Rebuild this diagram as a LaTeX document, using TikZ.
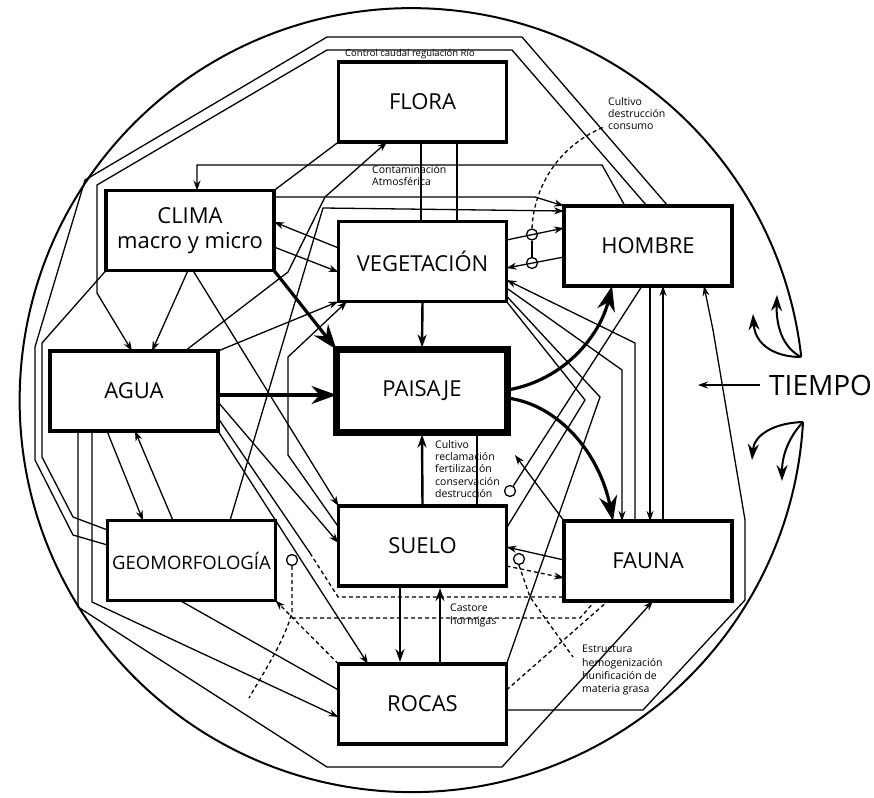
\documentclass[tikz,border=0pt]{standalone}
\usepackage{fontspec}
\setmainfont{Open Sans}
\usetikzlibrary{arrows.meta}
\tikzset{
  box/.style={draw, line width=3.2pt, minimum width=168pt, minimum height=80pt, inner sep=0pt, outer sep=0pt, align=center, font=\fontsize{22}{25}\selectfont},
  link/.style={line width=1.3pt},
  dlink/.style={line width=1.3pt, dash pattern=on 4pt off 3pt},
  mid/.style={line width=2.4pt, -{Stealth[length=13pt,width=9pt]}, shorten >=2pt},
  heavy/.style={line width=3.2pt, -{Stealth[length=25pt,width=18pt]}},
  note/.style={anchor=north west, inner sep=0pt, align=left, font=\fontsize{10.5}{12.4}\selectfont},
  ring/.style={draw, circle, line width=1.3pt, minimum size=11pt, inner sep=0pt},
  leaf/.style={line width=2pt, -{Stealth[length=16pt,width=11pt]}}
}
\begin{document}
\begin{tikzpicture}[x=1pt, y=-1pt, >={Stealth[length=10pt,width=7pt]}]
\useasboundingbox (0,0) rectangle (874,797);
\node[box] (flora) at (422.5,102) {FLORA}; % flora
\node[box] (clima) at (190,230.5) {CLIMA\\macro y micro}; % clima
\node[box] (veg) at (422.5,261.5) {VEGETACIÓN}; % vegetacion
\node[box] (hombre) at (648,246) {HOMBRE}; % hombre
\node[box] (agua) at (134,391) {AGUA}; % agua
\node[box, line width=7pt, minimum width=171pt, minimum height=83pt] (paisaje) at (422,391) {PAISAJE}; % paisaje
\node[box, font=\fontsize{18.5}{22}\selectfont] (geo) at (191.5,560.5) {GEOMORFOLOGÍA}; % geomorfologia
\node[box] (suelo) at (422.5,546) {SUELO}; % suelo
\node[box] (fauna) at (648,561) {FAUNA}; % fauna
\node[box] (rocas) at (422.5,704) {ROCAS}; % rocas

% ring of time, open at TIEMPO
\draw[line width=2pt] (803,422) arc[start angle=3.2, end angle=353.7, radius=392];
\draw[leaf] (801,357) .. controls (775,357) and (755,345) .. (753,314);
\draw[leaf] (801,357) .. controls (782,347) and (776,325) .. (777,295);
\draw[leaf] (803,422) .. controls (772,423) and (754,436) .. (752,460);
\draw[leaf] (803,422) .. controls (789,437) and (782,455) .. (782,481);
\node[anchor=west, inner sep=0pt, font=\fontsize{28}{30}\selectfont] (tiempo) at (769,385) {TIEMPO}; % tiempo
\coordinate (now) at (698,385);
\draw[link,->] ([xshift=-9pt]tiempo.west) -- (now); % time arrow

% long loops over the top
\draw[link] (hombre.north -| 668,0) -- (522,37) -- (327,37) -- (85,180) -- (35,347) -- (35,460) -- (73,535) -- (geo.west |- 0,545); % outer loop
\draw[link,->] (hombre.north -| 647,0) -- (512,50) -- (327,50) -- (97,185) -- (97,293) -- (agua.north -| 132,0); % control caudal
\draw[link,->] (hombre.north -| 625,0) -- (602,165) -- (197,165) -- (clima.north -| 197,0); % contaminacion
\draw[link,->] (clima.east |- 0,197) -- (535,197) -- (hombre.north west); % clima to hombre
\draw[link,->] (geo.north -| 230,0) -- (323,208) -- (hombre.west |- 0,211); % geomorfologia to hombre
\draw[link,->] (agua.north -| 185,0) -- (288,272) -- (325,197) -- (flora.south -| 387,0); % agua to flora
\draw[link] (clima.north east) -- (flora.south west); % clima - flora
\draw[link] (flora.south -| 421,0) -- (veg.north -| 421,0); % flora - vegetacion
\draw[link] (flora.south -| 457,0) -- (veg.north -| 457,0);

% clima
\draw[link,->] (veg.west |- 0,248) -- (clima.east |- 0,222);
\draw[link,->] (clima.east |- 0,247) -- (veg.west |- 0,272);
\draw[link,->] (clima.south -| 188,0) -- (agua.north -| 152,0);
\draw[link,->] (clima.south -| 193,0) -- (suelo.north west);
\draw[link] (clima.south west) -- (42,343) -- (42,457) -- (73,517) -- (geo.west |- 0,530);
\draw[heavy] (clima.south east) -- (paisaje.north west); % clima to paisaje

% agua
\draw[link,->] (agua.north east) -- (veg.south west);
\draw[heavy] (agua.east |- 0,395) -- (paisaje.west |- 0,395); % agua to paisaje
\draw[link,->] (agua.east |- 0,402) -- (suelo.west |- 0,543);
\draw[link] (agua.east |- 0,418) -- (310,553);
\draw[dlink] (310,553) -- (338,597) -- (fauna.west |- 0,597);
\draw[link,->] (agua.south east) -- (rocas.north -| 368,0);
\draw[link,->] (agua.south -| 107,0) -- (geo.north -| 143,0);
\draw[link,->] (geo.north -| 173,0) -- (agua.south -| 135,0);
\draw[link,->] (agua.south -| 78,0) -- (78,607) -- (327,767) -- (502,767) -- (fauna.south -| 653,0); % bottom loop
\draw[link,->] (agua.south -| 92,0) -- (92,602) -- (rocas.west |- 0,717);
\draw[link] (geo.south -| 180,0) -- (rocas.west |- 0,690);

% paisaje column
\draw[link,->] (suelo.west |- 0,527) -- (288,455) -- (288,357) -- (veg.south -| 347,0);
\draw[mid] (veg.south) -- (paisaje.north);
\draw[mid] (suelo.north) -- (paisaje.south);
\draw[link] (paisaje.south -| 477,0) -- (suelo.north -| 477,0);
\draw[mid] (suelo.south -| 400,0) -- (rocas.north -| 400,0);
\draw[mid] (rocas.north -| 440,0) -- (suelo.south -| 440,0);

% hombre and vegetacion
\node[ring] (rv) at (532,234.5) {};
\node[ring] (rh) at (532,263) {};
\draw[link,->] (veg.east |- 0,240) -- (hombre.west |- 0,228);
\draw[link,->] (hombre.west |- 0,257) -- (veg.east |- 0,268);
\draw[link] (rv) -- (rh);
\coordinate (consumo) at (604,127);
\draw[dlink] (rv.north) .. controls (534,185) and (560,145) .. (consumo); % cultivo destruccion

% right side
\draw[link,->] (fauna.north -| 635,0) -- (635,343) -- (veg.east |- 0,280);
\draw[link,->] (veg.east |- 0,288) -- (622,370) -- (fauna.north -| 622,0);
\draw[link] (veg.east |- 0,296) -- (600,397) -- (rocas.north east);
\draw[link] (veg.south east) -- (585,400) -- (suelo.east |- 0,528);
\node[ring] (rc) at (510,491) {};
\draw[link] (hombre.south -| 642,0) -- (rc);
\draw[link,->] (hombre.south -| 650,0) -- (fauna.north -| 650,0);
\draw[link,->] (fauna.north -| 663,0) -- (hombre.south -| 663,0);
\draw[link,->] (rocas.east |- 0,710) -- (643,710) -- (745,600) -- (745,520) -- (713,330) -- (hombre.south -| 704,0);
\coordinate (paistip) at (515,455);
\draw[link,->] (fauna.north west) -- (paistip);
\draw[link,->] (fauna.west |- 0,560) -- (suelo.east |- 0,547);
\draw[heavy] (paisaje.east |- 0,390) .. controls (565,380) and (600,335) .. (hombre.south -| 612,0); % paisaje to hombre
\draw[heavy] (paisaje.east |- 0,398) .. controls (560,405) and (600,455) .. (fauna.north -| 613,0); % paisaje to fauna

% dashed links below
\node[ring] (rs) at (519,559) {};
\coordinate (estructura) at (573,657);
\draw[dlink] (rs.south) -- (530,597) -- (estructura);
\draw[dlink,->] (suelo.east |- 0,566) -- (fauna.west |- 0,578);
\node[ring] (rg) at (292,560) {};
\coordinate (geofoot) at (249,698);
\draw[dlink] (rg.south) -- (292,612) .. controls (285,640) and (265,670) .. (geofoot);
\draw[dlink] (292,618) -- (580,618) -- (fauna.south -| 595,0);
\draw[dlink] (rocas.east |- 0,690) -- (fauna.south -| 608,0);
\draw[dlink,->] (rocas.north west) -- (geo.south east);

% labels
\node[anchor=west, inner sep=0pt, font=\fontsize{9.5}{11}\selectfont] (caudal) at (345,54) {Control caudal regulación Río};
\node[note] (contam) at (372,165) {Contaminación\\Atmosférica};
\node[note] (cultivoa) at (608,97) {Cultivo\\destrucción\\consumo};
\node[note] (cultivob) at (435,440) {Cultivo\\reclamación\\fertilización\\conservación\\destrucción};
\node[note] (castore) at (450,604) {Castore\\hormigas};
\node[note, font=\fontsize{10.5}{13.3}\selectfont] (estr) at (582,645) {Estructura\\hemogenización\\hunificación de\\materia grasa};
\end{tikzpicture}
\end{document}
